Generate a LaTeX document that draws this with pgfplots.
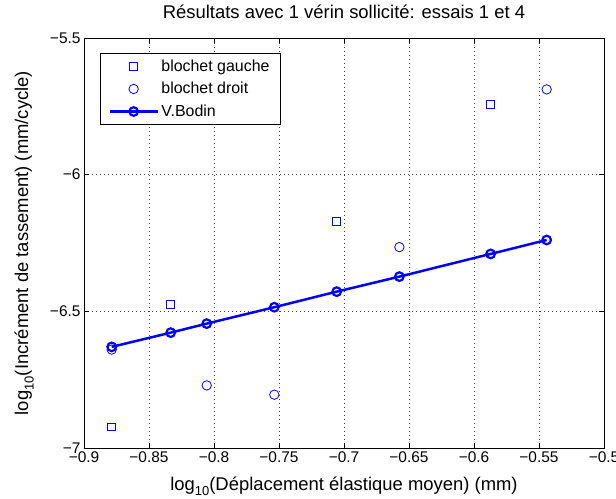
\documentclass[border=0pt]{standalone}
\usepackage{pgfplots}
\pgfplotsset{compat=1.18}
\usepackage{fontspec}
\setmainfont{Liberation Sans}
\newcommand{\figfont}{\fontsize{16}{18}\selectfont}
\newcommand{\tickfont}{\fontsize{15.5}{17}\selectfont}
\newcommand{\labfont}{\fontsize{18.5}{21}\selectfont}
\newcommand{\sub}[1]{\raisebox{-0.55ex}{\fontsize{13}{14}\selectfont #1}}
\definecolor{mblue}{RGB}{0,0,255}
\begin{document}
\begin{tikzpicture}
\useasboundingbox (-84bp,-51bp) rectangle (532bp,448bp);
\begin{axis}[
  at={(0,0)}, anchor=south west,
  scale only axis, width=520bp, height=410bp,
  xmin=-0.9, xmax=-0.5, ymin=-7, ymax=-5.5,
  xtick={-0.9,-0.85,-0.8,-0.75,-0.7,-0.65,-0.6,-0.55,-0.5},
  xticklabels={−0.9,−0.85,−0.8,−0.75,−0.7,−0.65,−0.6,−0.55,−0.5},
  ytick={-7,-6.5,-6,-5.5},
  yticklabels={−7,−6.5,−6,−5.5},
  tick align=inside, major tick length=5bp,
  xtick pos=both, ytick pos=both,
  tick style={black, line width=0.6bp},
  grid=major,
  grid style={black!75, dash pattern=on 0.8bp off 3.2bp, line width=0.5bp},
  axis line style={black, line width=0.9bp},
  tick label style={font=\tickfont},
  label style={font=\labfont},
  title style={font=\labfont, at={(axis description cs:0.5,1.05)}, anchor=center},
  title={Résultats avec 1 vérin sollicité: essais 1 et 4},
  xlabel={log\sub{10}(Déplacement élastique moyen) (mm)},
  ylabel={log\sub{10}(Incrément de tassement) (mm/cycle)},
  xlabel style={at={(axis description cs:0.5,-0.094)}, anchor=center},
  ylabel style={at={(axis description cs:-0.115,0.5)}, anchor=center},
  legend style={at={(axis description cs:0,1)}, xshift=16bp, yshift=-15bp,
    anchor=north west, draw=black, line width=0.8bp, font=\figfont,
    inner xsep=8bp, inner ysep=4bp, row sep=4.5bp,
    nodes={inner sep=2.5bp}},
  legend cell align=left,
  legend image code/.code={
    \draw[mark repeat=2,mark phase=2] plot coordinates {(0bp,0bp) (24bp,0bp) (48bp,0bp)};
  },
]
\addplot[only marks, mark=square, mark size=3.9bp, mblue, line width=0.8bp]
  coordinates {(-0.8787,-6.923) (-0.8333,-6.474) (-0.7056,-6.172) (-0.5872,-5.7415)};
\addlegendentry{blochet gauche}
\addplot[only marks, mark=o, mark size=4.7bp, mblue, line width=0.8bp]
  coordinates {(-0.8787,-6.640) (-0.8056,-6.771) (-0.7536,-6.805) (-0.6574,-6.265) (-0.5441,-5.688)};
\addlegendentry{blochet droit}
\addplot[mblue, line width=2.5bp, mark=o, mark size=4.3bp, mark options={line width=2.2bp}]
  coordinates {(-0.8787,-6.630) (-0.8333,-6.578) (-0.8056,-6.545) (-0.7536,-6.485)
               (-0.7056,-6.428) (-0.6574,-6.373) (-0.5872,-6.290) (-0.5441,-6.239)};
\addlegendentry{V.Bodin}
\end{axis}
\end{tikzpicture}
\end{document}
